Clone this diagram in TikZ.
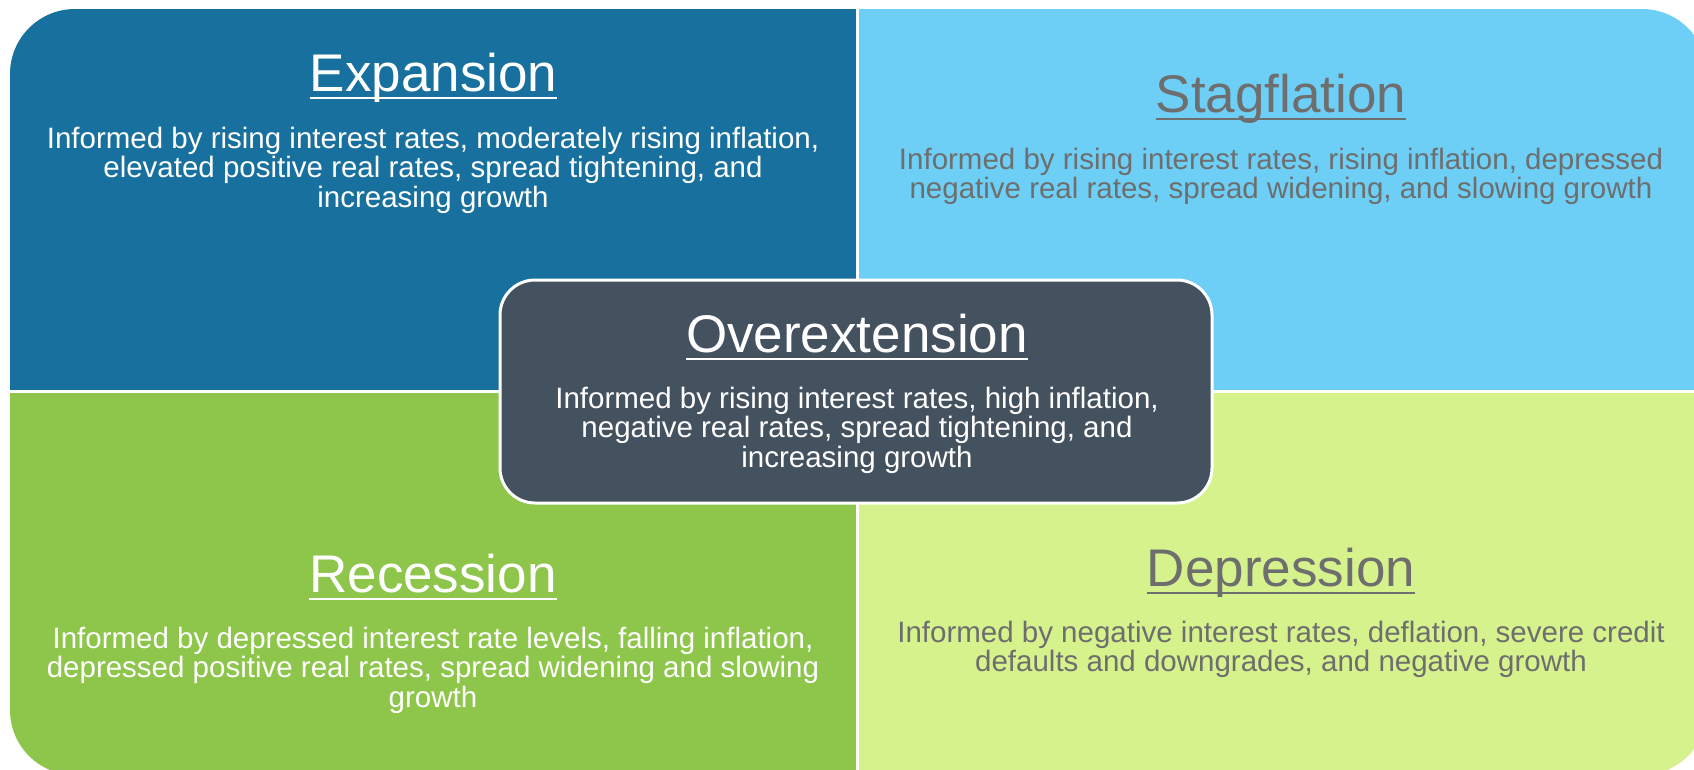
\documentclass[tikz,border=0pt]{standalone}
\usepackage{fontspec}
\setmainfont{Liberation Sans}
\usetikzlibrary{positioning}
\definecolor{expblue}{RGB}{23,112,158}
\definecolor{stagblue}{RGB}{109,207,246}
\definecolor{recgreen}{RGB}{141,198,75}
\definecolor{depgreen}{RGB}{214,242,140}
\definecolor{overslate}{RGB}{68,81,95}
\definecolor{quadgray}{RGB}{110,110,110}

\begin{document}
\begin{tikzpicture}[x=1pt,y=-1pt,
  quadtitle/.style={anchor=base,inner sep=0pt,font=\fontsize{53}{53}\selectfont},
  quadtext/.style={anchor=base,inner sep=0pt,align=center,font=\fontsize{29.5}{29.5}\selectfont},
  titleline/.style={line width=2.6pt}]
\useasboundingbox (0,0) rectangle (1694,769);
% the four quadrants
\begin{scope}
\clip [rounded corners=65pt] (10,9) rectangle (1707,775);
\fill [expblue] (10,9) rectangle (857,391);
\fill [stagblue] (857,9) rectangle (1707,391);
\fill [recgreen] (10,391) rectangle (857,775);
\fill [depgreen] (857,391) rectangle (1707,775);
\draw [white,line width=3pt] (857,0) -- (857,780);
\draw [white,line width=3pt] (0,391) -- (1710,391);
\end{scope}
% texts: base of a quadtext is the baseline of its last line
% Expansion
\node [quadtitle,white] (exptitle) at (433.5,91) {Expansion};
\draw [titleline,white] ([yshift=-7pt]exptitle.base west) -- ([yshift=-7pt]exptitle.base east);
\node [quadtext,white] (exptext) at (433,207) {Informed by rising interest rates, moderately rising inflation,\\elevated positive real rates, spread tightening, and\\increasing growth};
% Stagflation
\node [quadtitle,quadgray] (stagtitle) at (1281,112) {Stagflation};
\draw [titleline,quadgray] ([yshift=-7pt]stagtitle.base west) -- ([yshift=-7pt]stagtitle.base east);
\node [quadtext,quadgray] (stagtext) at (1281,198.5) {Informed by rising interest rates, rising inflation, depressed\\negative real rates, spread widening, and slowing growth};
% Recession
\node [quadtitle,white] (rectitle) at (433,592) {Recession};
\draw [titleline,white] ([yshift=-7pt]rectitle.base west) -- ([yshift=-7pt]rectitle.base east);
\node [quadtext,white] (rectext) at (433,707) {Informed by depressed interest rate levels, falling inflation,\\depressed positive real rates, spread widening and slowing\\growth};
% Depression
\node [quadtitle,quadgray] (deptitle) at (1281,586) {Depression};
\draw [titleline,quadgray] ([yshift=-7pt]deptitle.base west) -- ([yshift=-7pt]deptitle.base east);
\node [quadtext,quadgray] (deptext) at (1281,671.5) {Informed by negative interest rates, deflation, severe credit\\defaults and downgrades, and negative growth};
% Overextension in the middle
\node [draw=white,line width=3pt,fill=overslate,rounded corners=35pt,
  minimum width=712pt,minimum height=223pt,inner sep=0pt] (overbox) at (856,391.5) {};
\node [quadtitle,white] (overtitle) at (857,352) {Overextension};
\draw [titleline,white] ([yshift=-7pt]overtitle.base west) -- ([yshift=-7pt]overtitle.base east);
\node [quadtext,white] (overtext) at (857,467) {Informed by rising interest rates, high inflation,\\negative real rates, spread tightening, and\\increasing growth};
\end{tikzpicture}
\end{document}
